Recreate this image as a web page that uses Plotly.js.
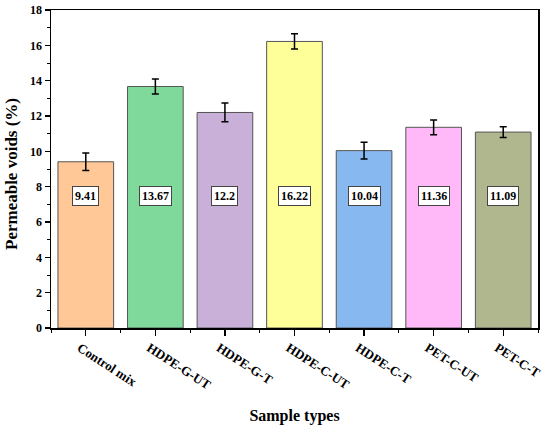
<!DOCTYPE html>
<html><head><meta charset="utf-8">
<script src="https://cdn.plot.ly/plotly-3.0.1.min.js"></script>
<style>html,body{margin:0;padding:0;background:#fff}#c{width:550px;height:425px}</style>
</head><body><div id="c"></div>
<script>
const categories = ["Control mix","HDPE-G-UT","HDPE-G-T","HDPE-C-UT","HDPE-C-T","PET-C-UT","PET-C-T"];
const values = [9.41, 13.67, 12.2, 16.22, 10.04, 11.36, 11.09];
const errors = [0.5, 0.43, 0.53, 0.43, 0.48, 0.42, 0.3];
const colors = ["#FFC896","#7FD99A","#C8B0D8","#FFFF99","#88B8F0","#FFB8F8","#B0B68E"];
const labelY = 7.5;
const xTitle = "Sample types";
const yTitle = "Permeable voids (%)";

const xs = categories.map((c,i)=>i);
const F = "Liberation Serif, Times New Roman, serif";

const trace = {
  type: "bar",
  x: xs,
  y: values,
  width: 0.8,
  marker: {color: colors, line: {color: "#555555", width: 1}},
  error_y: {type: "data", array: errors, visible: true, color: "#000", thickness: 1.5, width: 3.5},
  hoverinfo: "skip"
};

const annotations = values.map((v,i)=>({
  x: xs[i], y: labelY, xref: "x", yref: "y",
  text: String(v), showarrow: false,
  font: {family: F, size: 12, color: "#000", weight: "bold"},
  bgcolor: "#fff", bordercolor: "#444", borderwidth: 1, borderpad: 2
}));
annotations.push({
  xref: "paper", yref: "paper", x: 0, y: 0.5, xshift: -40, yshift: -5,
  xanchor: "center", yanchor: "middle", textangle: -90, showarrow: false,
  text: yTitle, font: {family: F, size: 17, color: "#000", weight: "bold"}
});

const layout = {
  width: 550, height: 425,
  margin: {l: 51, r: 12, t: 10, b: 97},
  paper_bgcolor: "#fff", plot_bgcolor: "#fff",
  showlegend: false,
  font: {family: F, color: "#000"},
  xaxis: {
    range: [-0.5, 6.5],
    tickvals: xs, ticktext: categories,
    tickangle: 33, ticklabelshift: -6,
    ticks: "outside", ticklen: 6, tickwidth: 1.2, tickcolor: "#000",
    minor: {dtick: 0.5, tick0: -0.5, ticks: "outside", ticklen: 3, tickwidth: 1, tickcolor: "#000"},
    showline: true, linecolor: "#000", linewidth: 1.5, mirror: true,
    showgrid: false, zeroline: false,
    tickfont: {family: F, size: 13, color: "#000", weight: "bold"},
    title: {text: xTitle, font: {family: F, size: 16, color: "#000", weight: "bold"}, standoff: 18}
  },
  yaxis: {
    range: [0, 18], dtick: 2,
    ticks: "outside", ticklen: 5, tickwidth: 1.2, tickcolor: "#000",
    minor: {dtick: 1, ticks: "outside", ticklen: 3, tickwidth: 1, tickcolor: "#000"},
    showline: true, linecolor: "#000", linewidth: 1.5, mirror: true,
    showgrid: false, zeroline: false,
    tickfont: {family: F, size: 12, color: "#000", weight: "bold"}
  },
  annotations: annotations
};

Plotly.newPlot("c", [trace], layout, {displayModeBar: false, staticPlot: true});
</script></body></html>
